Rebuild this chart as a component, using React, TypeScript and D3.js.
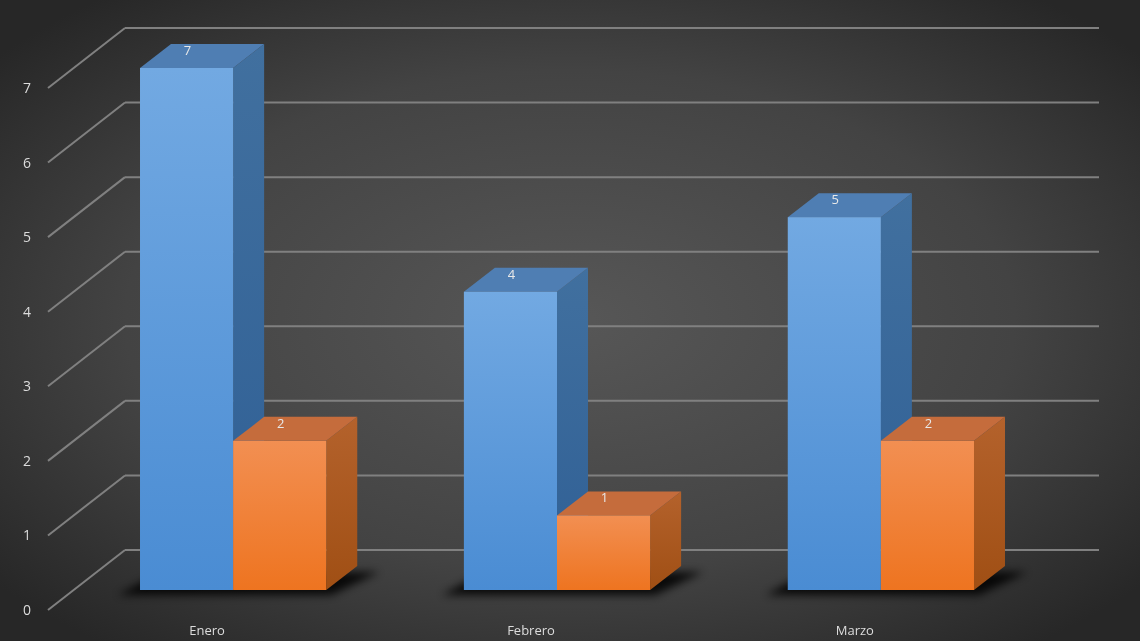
import React from "react";
import * as d3 from "d3";

const categories = ["Enero", "Febrero", "Marzo"];
const seriesA = [7, 4, 5];
const seriesB = [2, 1, 2];
const yTicks = [0, 1, 2, 3, 4, 5, 6, 7];

const W = 1140;
const H = 641;
// depth projection of the bars and of the walls
const DX = 31;
const DY = -24;
const WALL_DX = 77;
const WALL_DY = -60;

export default function App() {
  const y = d3.scaleLinear().domain([0, 7]).range([590, 68]);
  const x = d3
    .scaleBand<string>()
    .domain(categories)
    .range([72, 1042])
    .paddingInner(0.425)
    .paddingOuter(0.21);
  const xs = d3.scaleBand<string>().domain(["a", "b"]).range([0, x.bandwidth()]).padding(0);

  // back wall is 40px above bar front plane, front plane 20px below
  const backOff = -40;
  const backLeft = 125;
  const backRight = 1099;

  const series = [
    { key: "a", values: seriesA, front: "gradBlue", top: "#4f7eb3", side: "gradBlueSide" },
    { key: "b", values: seriesB, front: "gradOrange", top: "#c56c3c", side: "gradOrangeSide" },
  ];

  return (
    <svg
      width={W}
      height={H}
      style={{ position: "fixed", left: 0, top: 0, display: "block" }}
      fontFamily="'Open Sans', 'Noto Sans', sans-serif"
    >
      <defs>
        <radialGradient id="bg" cx="50%" cy="50%" r="65%">
          <stop offset="0%" stopColor="#575757" />
          <stop offset="60%" stopColor="#434343" />
          <stop offset="100%" stopColor="#272727" />
        </radialGradient>
        <linearGradient id="gradBlue" x1="0" y1="0" x2="0" y2="1">
          <stop offset="0%" stopColor="#72a9e2" />
          <stop offset="100%" stopColor="#4a8cd3" />
        </linearGradient>
        <linearGradient id="gradBlueSide" x1="0" y1="0" x2="0" y2="1">
          <stop offset="0%" stopColor="#41709f" />
          <stop offset="100%" stopColor="#2f5f95" />
        </linearGradient>
        <linearGradient id="gradOrange" x1="0" y1="0" x2="0" y2="1">
          <stop offset="0%" stopColor="#f28f52" />
          <stop offset="100%" stopColor="#ee7420" />
        </linearGradient>
        <linearGradient id="gradOrangeSide" x1="0" y1="0" x2="0" y2="1">
          <stop offset="0%" stopColor="#b4622c" />
          <stop offset="100%" stopColor="#a04f14" />
        </linearGradient>
        <filter id="blur" x="-20%" y="-100%" width="140%" height="300%">
          <feGaussianBlur stdDeviation="4" />
        </filter>
      </defs>
      <rect x={0} y={0} width={W} height={H} fill="url(#bg)" />

      {/* gridlines */}
      <g stroke="#808080" strokeWidth={2} fill="none">
        {yTicks.map((t) => {
          const yb = y(t) + backOff;
          return (
            <g key={t}>
              <line x1={backLeft} y1={yb} x2={backRight} y2={yb} />
              <line x1={backLeft} y1={yb} x2={backLeft - WALL_DX} y2={yb - WALL_DY} />
            </g>
          );
        })}
      </g>
      <g fill="#dcdcdc" fontSize={14} textAnchor="middle">
        {yTicks.map((t) => (
          <text key={t} x={27} y={y(t) + backOff - WALL_DY + 5}>
            {t}
          </text>
        ))}
      </g>

      {/* shadows */}
      <g filter="url(#blur)" fill="#000" opacity={0.85}>
        {categories.map((c) => {
          const x0 = x(c)!;
          const x1 = x0 + x.bandwidth();
          const yb = y(0) + 2;
          const pts = [
            [x0 - 22, yb + 3],
            [x1 + 5, yb + 3],
            [x1 + DX + 22, yb + DY + 4],
            [x0 + DX - 10, yb + DY + 4],
          ];
          return <polygon key={c} points={pts.map((p) => p.join(",")).join(" ")} />;
        })}
      </g>

      {/* bars */}
      {categories.map((c, i) => (
        <g key={c}>
          {series.map((s) => {
            const v = s.values[i];
            const bx = x(c)! + xs(s.key)!;
            const bw = xs.bandwidth();
            const yt = y(v);
            const yb = y(0);
            const top = [
              [bx, yt],
              [bx + DX, yt + DY],
              [bx + bw + DX, yt + DY],
              [bx + bw, yt],
            ];
            const side = [
              [bx + bw, yt],
              [bx + bw + DX, yt + DY],
              [bx + bw + DX, yb + DY],
              [bx + bw, yb],
            ];
            return (
              <g key={s.key}>
                <polygon points={side.map((p) => p.join(",")).join(" ")} fill={`url(#${s.side})`} />
                <polygon points={top.map((p) => p.join(",")).join(" ")} fill={s.top} />
                <rect x={bx} y={yt} width={bw} height={yb - yt} fill={`url(#${s.front})`} />
                <text
                  x={bx + bw / 2 + 1}
                  y={yt - 13}
                  fill="#e8e8e8"
                  fontSize={13}
                  textAnchor="middle"
                >
                  {v}
                </text>
              </g>
            );
          })}
        </g>
      ))}

      {/* category labels */}
      <g fill="#dcdcdc" fontSize={13} textAnchor="middle">
        {categories.map((c) => (
          <text key={c} x={x(c)! + x.bandwidth() / 2 - 26} y={635}>
            {c}
          </text>
        ))}
      </g>
    </svg>
  );
}
